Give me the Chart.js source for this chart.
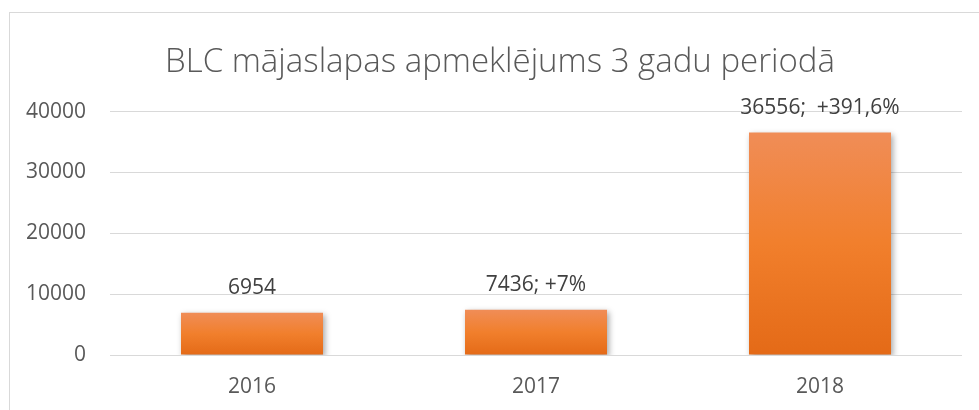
<!DOCTYPE html>
<html>
<head>
<meta charset="utf-8">
<script src="https://cdn.jsdelivr.net/npm/chart.js@4"></script>
<style>
  body { margin: 0; background: #fff; overflow: hidden; }
  #box {
    position: absolute; left: 9px; top: 12px;
    width: 980px; height: 398px;
    border-left: 1px solid #d9d9d9; border-top: 1px solid #d9d9d9;
  }
</style>
</head>
<body>
<div id="box"><canvas id="barCanvas" width="980" height="398"></canvas></div>
<script>
const years = ["2016", "2017", "2018"];
const visits = [6954, 7436, 36556];
const growthText = ["", "; +7%", ";  +391,6%"];
const yTicks = [0, 10000, 20000, 30000, 40000];

const font = "'Open Sans', sans-serif";

// per-bar vertical gradient, light on top, dark at the base
function barFill(ctx) {
    const chart = ctx.chart;
    if (!chart.chartArea || ctx.dataIndex === undefined) return "#f17f2d";
    const y = chart.scales.y;
    const top = y.getPixelForValue(visits[ctx.dataIndex]);
    const base = y.getPixelForValue(0);
    const g = chart.ctx.createLinearGradient(0, top, 0, base);
    g.addColorStop(0, "#f08d57");
    g.addColorStop(0.5, "#f17f2c");
    g.addColorStop(1, "#e46a17");
    return g;
}

const shadowPlugin = {
    id: "barShadow",
    beforeDatasetDraw(chart) {
        const c = chart.ctx;
        c.save();
        c.shadowColor = "rgba(0,0,0,0.35)";
        c.shadowBlur = 6;
        c.shadowOffsetX = 2;
        c.shadowOffsetY = 2;
    },
    afterDatasetDraw(chart) {
        chart.ctx.restore();
    }
};

const valueLabels = {
    id: "valueLabels",
    afterDatasetsDraw(chart) {
        const c = chart.ctx;
        const meta = chart.getDatasetMeta(0);
        c.save();
        c.font = "21px " + font;
        c.fillStyle = "#404040";
        c.textAlign = "center";
        c.textBaseline = "middle";
        meta.data.forEach((bar, i) => {
            c.fillText(visits[i] + growthText[i], bar.x, bar.y - 25);
        });
        c.restore();
    }
};

new Chart(document.getElementById("barCanvas"), {
    type: "bar",
    data: {
        labels: years,
        datasets: [{
            data: visits,
            backgroundColor: barFill,
            barPercentage: 0.5,
            categoryPercentage: 1
        }]
    },
    plugins: [shadowPlugin, valueLabels],
    options: {
        responsive: false,
        animation: false,
        layout: { padding: 0 },
        plugins: {
            legend: { display: false },
            tooltip: { enabled: false },
            title: {
                display: true,
                text: "BLC mājaslapas apmeklējums 3 gadu periodā",
                color: "#595959",
                font: { family: font, size: 33, weight: "300" },
                padding: { top: 30, bottom: 29 }
            }
        },
        scales: {
            y: {
                min: 0,
                max: 40000,
                afterFit(scale) { scale.width = 100; },
                afterBuildTicks(scale) { scale.ticks = yTicks.map(v => ({ value: v })); },
                border: { display: false },
                grid: { color: "#d9d9d9", drawTicks: false },
                ticks: {
                    padding: 24,
                    color: "#595959",
                    font: { family: font, size: 21 },
                    callback: v => String(v)
                }
            },
            // empty right margin, keeps the title centred on the whole frame
            side: {
                position: "right",
                min: 0,
                max: 40000,
                afterFit(scale) { scale.width = 28; },
                border: { display: false },
                grid: { display: false, drawTicks: false },
                ticks: { display: false }
            },
            x: {
                afterFit(scale) { scale.height = 56; },
                border: { display: false },
                grid: { display: false, drawTicks: false },
                ticks: {
                    padding: 19,
                    color: "#595959",
                    font: { family: font, size: 21 }
                }
            }
        }
    }
});
</script>
</body>
</html>
